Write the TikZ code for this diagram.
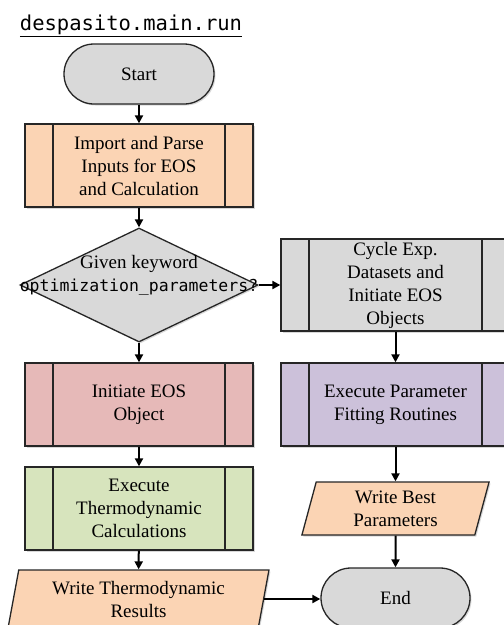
\documentclass[tikz,border=0pt]{standalone}
\usepackage{fontspec}
\setmainfont{Liberation Serif}
\setmonofont{DejaVu Sans Mono}
\usetikzlibrary{shapes.geometric,arrows.meta,shadows}
\definecolor{termgray}{HTML}{D9D9D9}
\definecolor{peach}{HTML}{FBD4B4}
\definecolor{pinkbox}{HTML}{E6B9B8}
\definecolor{greenbox}{HTML}{D7E4BD}
\definecolor{purplebox}{HTML}{CCC1DA}
\definecolor{edge}{HTML}{262626}
\tikzset{
  base/.style={draw=edge, line width=1.3pt,
    drop shadow={shadow xshift=1.5pt,shadow yshift=-1.5pt,opacity=0.3},
    font=\fontsize{19}{23}\selectfont, align=center, inner sep=0pt},
  terminal/.style={base, rectangle, rounded corners=30pt, minimum width=150pt, minimum height=60pt, fill=termgray},
  process/.style={base, rectangle, minimum width=228pt, minimum height=83pt,
    path picture={
      \draw[line width=1.3pt, edge] ([xshift=28pt]path picture bounding box.north west) -- ([xshift=28pt]path picture bounding box.south west);
      \draw[line width=1.3pt, edge] ([xshift=-28pt]path picture bounding box.north east) -- ([xshift=-28pt]path picture bounding box.south east);
    }},
  decision/.style={base, diamond, minimum width=238pt, minimum height=114pt, fill=termgray},
  iobox/.style={base, trapezium, trapezium left angle=78, trapezium right angle=102, trapezium stretches=true, fill=peach},
  conn/.style={line width=2pt, draw=black, -{Triangle[length=8pt,width=8pt]}},
}
\begin{document}
\begin{tikzpicture}[x=1pt,y=-1pt]
\useasboundingbox (0,0) rectangle (504,625);
\clip (0,0) rectangle (504,625);
\fill[white] (0,0) rectangle (504,625);

\node[inner sep=0pt] (title) at (131,26) {\fontsize{20.5}{24}\selectfont\ttfamily\underline{despasito.main.run}};

\node[terminal] (start) at (139,74) {Start};
\node[process, fill=peach] (import) at (139,165.5) {Import and Parse\\Inputs for EOS\\and Calculation};
\node[decision] (dec) at (139,285) {};
\node[align=center, inner sep=0pt, font=\fontsize{19}{23}\selectfont] (dectext) at (139,275) {Given keyword\\{\ttfamily\fontsize{16.5}{23}\selectfont optimization\_parameters?}};
\node[process, fill=termgray, minimum width=229pt, minimum height=92pt] (cycle) at (395.5,285) {Cycle Exp.\\Datasets and\\Initiate EOS\\Objects};
\node[process, fill=pinkbox] (initeos) at (139,404.5) {Initiate EOS\\Object};
\node[process, fill=purplebox, minimum width=229pt] (exparam) at (395.5,404.5) {Execute Parameter\\Fitting Routines};
\node[process, fill=greenbox] (exthermo) at (139,508.5) {Execute\\Thermodynamic\\Calculations};
\node[iobox, minimum width=188pt, minimum height=53pt] (wbest) at (395.5,508.5) {Write Best\\Parameters};
\node[iobox, minimum width=261pt, minimum height=58pt] (wthermo) at (138.5,599) {Write Thermodynamic\\Results};
\node[terminal, minimum width=149pt] (end) at (395.5,598) {End};

\draw[conn] (start) -- (import);
\draw[conn] (import) -- (dec);
\draw[conn] (dec) -- (cycle);
\draw[conn] (dec) -- (initeos);
\draw[conn] (initeos) -- (exthermo);
\draw[conn] (exthermo) -- (wthermo);
\draw[conn] (cycle) -- (exparam);
\draw[conn] (exparam) -- (wbest);
\draw[conn] (wbest) -- (end);
\draw[conn] (wthermo.east) -- (wthermo.east -| end.west);
\end{tikzpicture}
\end{document}
